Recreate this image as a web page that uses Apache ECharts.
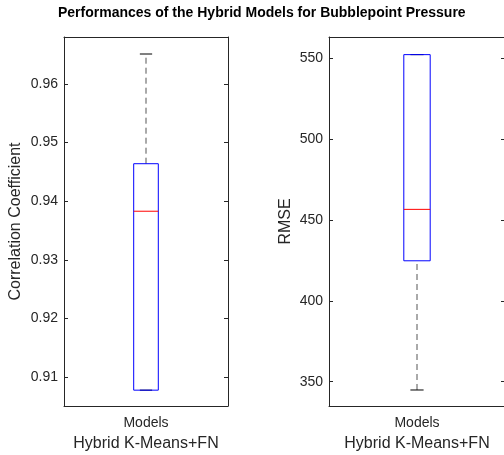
<!DOCTYPE html>
<html>
<head>
<meta charset="utf-8">
<script src="https://cdn.jsdelivr.net/npm/echarts@6/dist/echarts.min.js"></script>
<style>
html, body { margin: 0; padding: 0; background: #fff; }
#chart { width: 504px; height: 455px; }
</style>
</head>
<body>
<div id="chart"></div>
<script>
// data
var categories = ['Models'];
// [lower whisker, Q1, median, Q3, upper whisker]
var corrStats = [0.9078, 0.9078, 0.9383, 0.9464, 0.9651];
var rmseStats = [344.9, 424.8, 456.6, 552.3, 552.3];
var corrRange = [0.9051, 0.968];
var rmseRange = [335, 563.2];

var axisColor = '#262626';
var font = "'Liberation Sans', Arial, sans-serif";

function boxItem(params, api) {
	var x = api.value(0);
	var cx = api.coord([x, api.value(3)])[0];
	var lo = api.coord([x, api.value(1)])[1];
	var q1 = api.coord([x, api.value(2)])[1];
	var med = api.coord([x, api.value(3)])[1];
	var q3 = api.coord([x, api.value(4)])[1];
	var hi = api.coord([x, api.value(5)])[1];
	var bw = api.size([1, 0])[0] * 0.15;
	var cw = bw / 2;
	var dash = { stroke: '#555', lineWidth: 1, lineDash: [6, 4] };
	var solid = { stroke: '#000', lineWidth: 1 };
	return {
		type: 'group',
		children: [
			{ type: 'line', shape: { x1: cx, y1: q3, x2: cx, y2: hi }, style: dash },
			{ type: 'line', shape: { x1: cx, y1: lo, x2: cx, y2: q1 }, style: dash },
			{ type: 'line', shape: { x1: cx - cw / 2, y1: hi, x2: cx + cw / 2, y2: hi }, style: solid },
			{ type: 'line', shape: { x1: cx - cw / 2, y1: lo, x2: cx + cw / 2, y2: lo }, style: solid },
			{ type: 'rect', shape: { x: cx - bw / 2, y: q3, width: bw, height: q1 - q3 },
				style: { stroke: '#0000ff', fill: null, lineWidth: 1 } },
			{ type: 'line', shape: { x1: cx - bw / 2, y1: med, x2: cx + bw / 2, y2: med },
				style: { stroke: '#ff0000', lineWidth: 1 } }
		]
	};
}

function xAxes(i) {
	return [{
		gridIndex: i,
		type: 'category',
		data: categories,
		position: 'bottom',
		axisLine: { lineStyle: { color: axisColor } },
		axisTick: { inside: true, alignWithLabel: true, length: 4, lineStyle: { color: axisColor } },
		axisLabel: { color: axisColor, fontSize: 14, fontFamily: font, margin: 10 },
		name: 'Hybrid K-Means+FN',
		nameLocation: 'middle',
		nameGap: 30,
		nameTextStyle: { color: axisColor, fontSize: 16, fontFamily: font }
	}, {
		gridIndex: i,
		type: 'category',
		data: categories,
		position: 'top',
		axisLine: { lineStyle: { color: axisColor } },
		axisTick: { inside: true, alignWithLabel: true, length: 4, lineStyle: { color: axisColor } },
		axisLabel: { show: false }
	}];
}

function yAxes(i, range, name, gap) {
	return [{
		gridIndex: i,
		type: 'value',
		min: range[0],
		max: range[1],
		position: 'left',
		axisLine: { show: true, lineStyle: { color: axisColor } },
		axisTick: { show: true, inside: true, length: 4, lineStyle: { color: axisColor } },
		splitLine: { show: false },
		axisLabel: { color: axisColor, fontSize: 14, fontFamily: font, margin: 6,
			showMinLabel: false, showMaxLabel: false },
		name: name,
		nameLocation: 'middle',
		nameGap: gap,
		nameTextStyle: { color: axisColor, fontSize: 16, fontFamily: font }
	}, {
		gridIndex: i,
		type: 'value',
		min: range[0],
		max: range[1],
		position: 'right',
		axisLine: { show: true, lineStyle: { color: axisColor } },
		axisTick: { show: true, inside: true, length: 4, lineStyle: { color: axisColor } },
		splitLine: { show: false },
		axisLabel: { show: false }
	}];
}

var chart = echarts.init(document.getElementById('chart'));
chart.setOption({
	animation: false,
	title: {
		text: 'Performances of the Hybrid Models for Bubblepoint Pressure',
		left: 53,
		top: 1,
		textStyle: { color: '#000', fontSize: 14, fontWeight: 'bold', fontFamily: font }
	},
	grid: [
		{ left: 64, right: 276, top: 37, bottom: 49, outerBoundsMode: 'none' },
		{ left: 329, right: -1, top: 37, bottom: 49, outerBoundsMode: 'none' }
	],
	xAxis: xAxes(0).concat(xAxes(1)),
	yAxis: yAxes(0, corrRange, 'Correlation Coefficient', 40).concat(yAxes(1, rmseRange, 'RMSE', 35)),
	series: [{
		type: 'custom',
		xAxisIndex: 0,
		yAxisIndex: 0,
		renderItem: boxItem,
		encode: { x: 0, y: [1, 2, 3, 4, 5] },
		data: [[0].concat(corrStats)]
	}, {
		type: 'custom',
		xAxisIndex: 2,
		yAxisIndex: 2,
		renderItem: boxItem,
		encode: { x: 0, y: [1, 2, 3, 4, 5] },
		data: [[0].concat(rmseStats)]
	}]
});
</script>
</body>
</html>
